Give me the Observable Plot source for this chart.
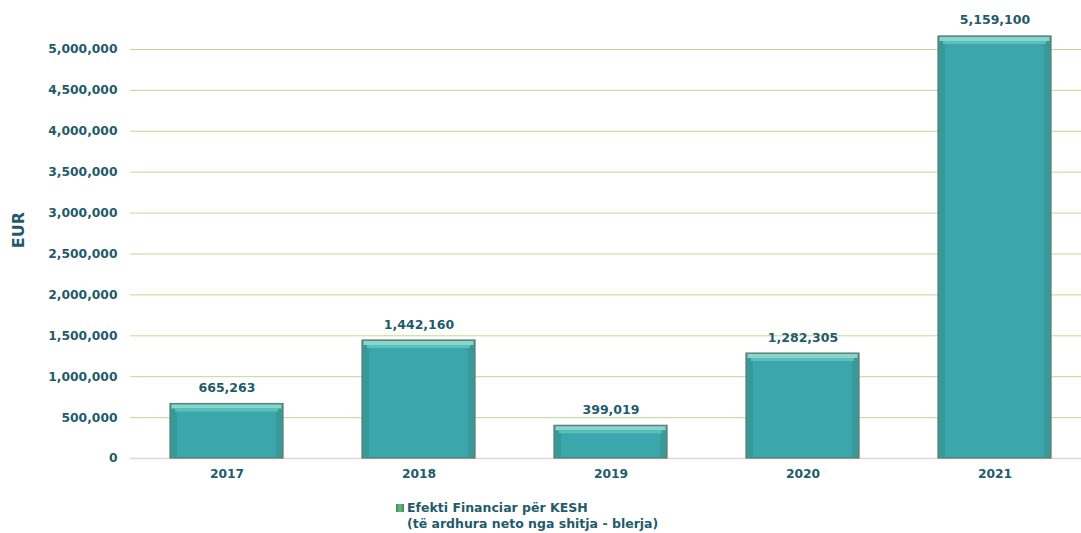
<!DOCTYPE html>
<html><head><meta charset="utf-8">
<script src="https://cdn.jsdelivr.net/npm/d3@7"></script>
<script src="https://cdn.jsdelivr.net/npm/@observablehq/plot@0.6"></script>
<style>
html,body{margin:0;padding:0;background:#fff;overflow:hidden;}
#wrap{position:relative;width:1081px;height:533px;overflow:hidden;font-family:"DejaVu Sans",Verdana,sans-serif;}
#chart svg{max-width:none !important;}
#legend{position:absolute;left:396px;top:500px;font-weight:bold;font-size:12.5px;color:#1f5b6a;line-height:16px;}
#legend .sw{display:inline-block;width:8px;height:8px;background:linear-gradient(90deg,#3d8a5c,#6ab884,#3d8a5c);margin-right:3px;vertical-align:0px;}
</style></head>
<body><div id="wrap"><div id="chart"></div>
<div id="legend"><span class="sw"></span>Efekti Financiar për KESH<br><span style="padding-left:11px">(të ardhura neto nga shitja - blerja)</span></div></div>
<script>
const years = ["2017","2018","2019","2020","2021"];
const values = [665263, 1442160, 399019, 1282305, 5159100];
const yTicks = [0,500000,1000000,1500000,2000000,2500000,3000000,3500000,4000000,4500000,5000000];
const data = years.map((y,i)=>({year:y, value:values[i]}));
const fmt = d3.format(",");
const txt = "#1f5b6a";
const chart = Plot.plot({
  width: 1092, height: 490,
  marginLeft: 130, marginRight: 0, marginTop: 49, marginBottom: 32,
  style:{fontFamily:'"DejaVu Sans",Verdana,sans-serif', fontSize:"12px", fontWeight:"bold", color:txt, background:"#fff", maxWidth:"none"},
  x:{domain:years, paddingInner:0.41, paddingOuter:0.205, align:0.5, label:null},
  y:{domain:[0,5000000], ticks:yTicks, label:null},
  marks:[
    Plot.gridY(yTicks.filter(d=>d>0), {stroke:"#c2d894", strokeOpacity:1, strokeWidth:1}),
    Plot.ruleY([0], {stroke:"#d9d9d9", strokeWidth:1.5}),
    Plot.axisY({ticks:yTicks, tickSize:0, tickPadding:13, tickFormat:fmt, fill:txt, fontWeight:"bold", fontSize:12.3}),
    Plot.axisX({tickSize:0, tickPadding:11, fill:txt, fontWeight:"bold", fontSize:12.3}),
    Plot.barY(data, {x:"year", y:"value", fill:"#37999a", stroke:"#64806f", strokeWidth:1.3}),
    Plot.barY(data, {x:"year", y:"value", fill:"#3ba6ab", insetLeft:7, insetRight:7, insetTop:7, insetBottom:1}),
    Plot.tickY(data, {x:"year", y:"value", stroke:"#86d5cf", strokeWidth:4, dy:2.5, inset:1.5}),
    Plot.tickY(data, {x:"year", y:"value", stroke:"#5cbfbc", strokeWidth:3, dy:6, inset:5}),
    Plot.text(data, {x:"year", y:"value", text:d=>fmt(d.value), dy:-12, lineAnchor:"bottom", fill:txt, fontWeight:"bold", fontSize:12.5})
  ]
});
document.getElementById("chart").appendChild(chart);
d3.select(chart).append("text").attr("transform","translate(24,230) rotate(-90)")
  .attr("text-anchor","middle").attr("fill",txt).attr("font-weight","bold")
  .attr("font-size","16px").attr("font-family",'"DejaVu Sans",Verdana,sans-serif').text("EUR");
</script></body></html>
